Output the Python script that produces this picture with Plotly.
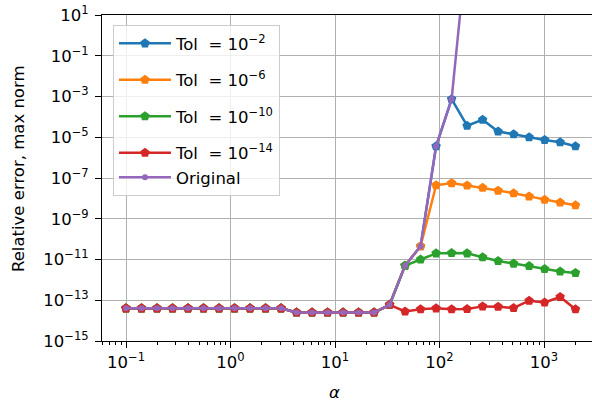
import plotly.graph_objects as go

# Regularisation parameter alpha (log-spaced sample points)
alpha = [0.1, 0.1407, 0.198, 0.2787, 0.3921, 0.5518, 0.7765, 1.093, 1.538, 2.164,
         3.045, 4.285, 6.03, 8.485, 11.94, 16.8, 23.64, 33.27, 46.82, 65.89,
         92.72, 130.5, 183.6, 258.4, 363.6, 511.6, 720.0, 1013.0, 1426.0, 2000.0]

# Shared low-alpha plateau (identical for every run)
plateau = [4.0e-14] * 11 + [2.5e-14] * 6

err_tol_2 = plateau + [6e-14, 5e-12, 4.5e-11, 3.6e-6, 7.4e-4, 3.7e-5, 7.2e-5,
                       1.9e-5, 1.4e-5, 1.0e-5, 7.4e-6, 5.7e-6, 3.6e-6]
err_tol_6 = plateau + [6e-14, 5e-12, 4.5e-11, 4.4e-8, 5.6e-8, 4.3e-8, 3.3e-8,
                       2.4e-8, 1.8e-8, 1.25e-8, 8.5e-9, 6.3e-9, 4.6e-9]
err_tol_10 = plateau + [6e-14, 5e-12, 1.0e-11, 2.0e-11, 2.1e-11, 2.0e-11, 1.3e-11,
                        8.5e-12, 6.3e-12, 4.8e-12, 3.4e-12, 2.6e-12, 2.2e-12]
err_tol_14 = plateau + [6e-14, 2.8e-14, 3.6e-14, 4.0e-14, 3.6e-14, 3.7e-14, 5.0e-14,
                        4.8e-14, 4.2e-14, 9.5e-14, 7.8e-14, 1.45e-13, 3.6e-14]
err_original = plateau + [6e-14, 5e-12, 4.5e-11, 3.6e-6, 7.4e-4, 3e4]

tol_exps = [-2, -6, -10, -14]
tol_colors = ["#1f77b4", "#ff7f0e", "#2ca02c", "#d62728"]
tol_errors = [err_tol_2, err_tol_6, err_tol_10, err_tol_14]

y_tick_exps = [1, -1, -3, -5, -7, -9, -11, -13, -15]
x_tick_exps = [-1, 0, 1, 2, 3]


def sup(e):
    return "10<sup>" + str(e).replace("-", "−") + "</sup>"


NB = "\u00a0"
fig = go.Figure()
for i, (e, vals, color) in enumerate(zip(tol_exps, tol_errors, tol_colors)):
    fig.add_trace(go.Scatter(
        x=alpha[:len(vals)], y=vals,
        name="Tol" + NB + NB + "=" + NB + sup(e),
        legendgroup="g%d" % i,
        mode="lines+markers",
        line=dict(color=color, width=2.5),
        marker=dict(symbol="pentagon", size=10, color=color),
    ))
fig.add_trace(go.Scatter(
    x=alpha[:len(err_original)], y=err_original, name="Original",
    legendgroup="g3",
    mode="lines+markers",
    line=dict(color="#9467bd", width=2.5),
    marker=dict(symbol="circle", size=6, color="#9467bd"),
))

font = dict(family="DejaVu Sans", size=16.5, color="black")
minor_x = [m * 10 ** e for e in range(-2, 4) for m in range(2, 10)]

fig.update_layout(
    width=592, height=404,
    margin=dict(l=102, r=0, t=15, b=63),
    paper_bgcolor="white", plot_bgcolor="white",
    font=font,
    showlegend=True,
    legend=dict(
        x=0.0224, y=0.969, xanchor="left", yanchor="top",
        bgcolor="rgba(255,255,255,0.8)", bordercolor="#cccccc", borderwidth=1,
        font=font, tracegroupgap=12, itemwidth=52,
    ),
    xaxis=dict(
        type="log", range=[-1.2297, 3.459],
        showline=True, linecolor="black", linewidth=1, mirror=True,
        ticks="outside", ticklen=6, tickwidth=1, tickcolor="black",
        tickvals=[10 ** e for e in x_tick_exps],
        ticktext=[sup(e) for e in x_tick_exps],
        showgrid=True, gridcolor="#b0b0b0", gridwidth=1,
        zeroline=False,
        minor=dict(tickvals=minor_x, ticks="outside", ticklen=3, tickwidth=1,
                   tickcolor="black", showgrid=False),
        tickfont=font,
    ),
    yaxis=dict(
        type="log", range=[-15, 1],
        showline=True, linecolor="black", linewidth=1, mirror=False,
        ticks="outside", ticklen=6, tickwidth=1, tickcolor="black",
        tickvals=[10.0 ** e for e in y_tick_exps],
        ticktext=[sup(e) for e in y_tick_exps],
        ticklabelstandoff=3,
        showgrid=True, gridcolor="#b0b0b0", gridwidth=1,
        zeroline=False,
        tickfont=font,
    ),
    annotations=[
        dict(text="Relative error, max norm", xref="paper", yref="paper",
             x=-0.1714, y=0.5276, textangle=-90, showarrow=False,
             xanchor="center", yanchor="middle", font=font),
        dict(text="<i>α</i>", xref="paper", yref="paper",
             x=0.4755, y=-0.1595, showarrow=False,
             xanchor="center", yanchor="middle", font=font),
    ],
)

fig.write_html("out.html")
